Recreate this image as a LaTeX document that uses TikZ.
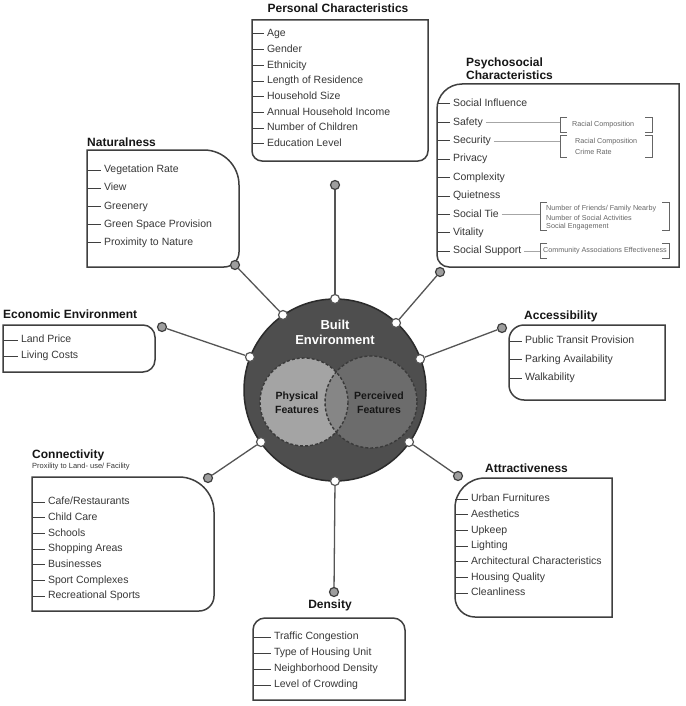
\documentclass[tikz,border=0pt]{standalone}
\usepackage{fontspec}
\setmainfont{Liberation Sans}
\definecolor{boxc}{HTML}{3F3F3F}
\definecolor{itemc}{HTML}{383838}
\definecolor{titlec}{HTML}{161616}
\definecolor{conc}{HTML}{555555}
\definecolor{bec}{HTML}{4E4E4E}
\definecolor{ringc}{HTML}{2B2B2B}
\definecolor{physc}{HTML}{A4A4A4}
\definecolor{percc}{HTML}{7A7A7A}
\definecolor{dashc}{HTML}{3A3A3A}
\definecolor{subc}{HTML}{666666}
\definecolor{outc}{HTML}{9E9E9E}
\newcommand\itmfont{\fontsize{10.5}{12}\selectfont}
\newcommand\ttlfont{\fontsize{12}{13}\selectfont\bfseries}
\newcommand\subfont{\fontsize{7.2}{9}\selectfont}
\newcommand\subbrk[4]{%
  \draw[brk] (#1+7,#2) -- (#1,#2) -- (#1,#4) -- (#1+7,#4);
  \draw[brk] (#3-7,#2) -- (#3,#2) -- (#3,#4) -- (#3-7,#4);}
\begin{document}
\begin{tikzpicture}[x=1pt,y=-1pt,
 boxln/.style={draw=boxc,line width=1.5pt},
 tickln/.style={draw=boxc,line width=1pt},
 itm/.style={anchor=west,inner sep=2.5pt,font=\itmfont,text=itemc,text height=7.4pt,text depth=2pt},
 ttl/.style={font=\ttlfont,text=titlec,inner sep=0pt},
 subt/.style={anchor=west,inner sep=0pt,font=\subfont,text=subc},
 brk/.style={draw=boxc!80,line width=0.9pt},
 lnk/.style={draw=gray!70,line width=0.6pt},
 conn/.style={draw=conc,line width=1.3pt},
 incirc/.style={circle,draw=conc,fill=white,line width=1.2pt,minimum size=9pt,inner sep=0pt},
 outcirc/.style={circle,draw=boxc,fill=outc,line width=1.2pt,minimum size=9pt,inner sep=0pt},
 feat/.style={font=\fontsize{10.5}{14}\selectfont\bfseries,text=titlec,align=center,inner sep=0pt},
]
\useasboundingbox (0,0) rectangle (685,706);
\fill[white] (0,0) rectangle (685,706);

% ---------- boxes ----------
% Personal Characteristics
\draw[boxln] (252,20) -- (428,20) -- (428,151) arc[start angle=0,end angle=90,radius=10]
  -- (262,161) arc[start angle=90,end angle=180,radius=10] -- cycle;
% Psychosocial
\draw[boxln] (462,84) -- (679,84) -- (679,267) -- (449,267) arc[start angle=90,end angle=180,radius=12]
  -- (437,109) arc[start angle=180,end angle=270,radius=25] -- cycle;
% Naturalness
\draw[boxln] (87,150) -- (204,150) arc[start angle=270,end angle=360,radius=35]
  -- (239,252) arc[start angle=0,end angle=90,radius=15] -- (87,267) -- cycle;
% Economic
\draw[boxln] (3,325) -- (143,325) arc[start angle=270,end angle=360,radius=12]
  -- (155,360) arc[start angle=0,end angle=90,radius=12] -- (3,372) -- cycle;
% Accessibility
\draw[boxln] (524,325) -- (665,325) -- (665,400) -- (524,400) arc[start angle=90,end angle=180,radius=15]
  -- (509,340) arc[start angle=180,end angle=270,radius=15] -- cycle;
% Connectivity
\draw[boxln] (32,477) -- (179,477) arc[start angle=270,end angle=360,radius=35]
  -- (214,596) arc[start angle=0,end angle=90,radius=15] -- (32,611) -- cycle;
% Attractiveness
\draw[boxln] (485,478) -- (612,478) -- (612,617) -- (475,617) arc[start angle=90,end angle=180,radius=20]
  -- (455,508) arc[start angle=180,end angle=270,radius=30] -- cycle;
% Density
\draw[boxln] (265,618) -- (393,618) arc[start angle=270,end angle=360,radius=12]
  -- (405,700) -- (253,700) -- (253,630) arc[start angle=180,end angle=270,radius=12] -- cycle;

% ---------- titles ----------
\node[ttl] (tpc) at (338,8) {Personal Characteristics};
\node[ttl,align=left,anchor=west] (tpsy) at (466,68.5) {Psychosocial\\Characteristics};
\node[ttl,anchor=west] (tnat) at (87,142) {Naturalness};
\node[ttl,anchor=west] (teco) at (3,314) {Economic Environment};
\node[ttl,anchor=west] (tacc) at (524,316) {Accessibility};
\node[ttl,anchor=west] (tcon) at (32,455) {Connectivity};
\node[anchor=west,inner sep=0pt,font=\fontsize{7.5}{9}\selectfont,text=itemc] (tconsub) at (32,467) {Proxility to Land- use/ Facility};
\node[ttl,anchor=west] (tatt) at (485,468) {Attractiveness};
\node[ttl] (tden) at (330,605) {Density};

% ---------- items ----------
\foreach \t [count=\i] in {Age,Gender,Ethnicity,Length of Residence,Household Size,Annual Household Income,Number of Children,Education Level}
  \draw[tickln] (252,{34+15.7*(\i-1)}) -- ++(12,0) node[itm] (pc\i) {\t};
\foreach \t [count=\i] in {Social Influence,Safety,Security,Privacy,Complexity,Quietness,Social Tie,Vitality,Social Support}
  \draw[tickln] (437,{104+18.4*(\i-1)}) -- ++(13,0) node[itm] (psy\i) {\t};
\foreach \t [count=\i] in {Vegetation Rate,View,Greenery,Green Space Provision,Proximity to Nature}
  \draw[tickln] (87,{170+18.2*(\i-1)}) -- ++(14,0) node[itm] (nat\i) {\t};
\foreach \t [count=\i] in {Land Price,Living Costs}
  \draw[tickln] (3,{340+16*(\i-1)}) -- ++(15,0) node[itm] (eco\i) {\t};
\foreach \t [count=\i] in {Public Transit Provision,Parking Availability,Walkability}
  \draw[tickln] (509,{341+18.5*(\i-1)}) -- ++(13,0) node[itm] (acc\i) {\t};
\foreach \t [count=\i] in {Cafe/Restaurants,Child Care,Schools,Shopping Areas,Businesses,Sport Complexes,Recreational Sports}
  \draw[tickln] (32,{502+15.67*(\i-1)}) -- ++(13,0) node[itm] (con\i) {\t};
\foreach \t [count=\i] in {Urban Furnitures,Aesthetics,Upkeep,Lighting,Architectural Characteristics,Housing Quality,Cleanliness}
  \draw[tickln] (455,{499+15.67*(\i-1)}) -- ++(13,0) node[itm] (att\i) {\t};
\foreach \t [count=\i] in {Traffic Congestion,Type of Housing Unit,Neighborhood Density,Level of Crowding}
  \draw[tickln] (253,{637+16*(\i-1)}) -- ++(18,0) node[itm] (den\i) {\t};

% ---------- psychosocial sub-brackets ----------
\subbrk{560}{117}{652}{132}
\subbrk{560}{135}{652}{157}
\subbrk{540}{202}{669}{230}
\subbrk{540}{243}{669}{258}
\coordinate (sbA) at (560,0);
\coordinate (sbB) at (540,0);
\draw[lnk] (psy2.east) -- (psy2.east -| sbA);
\draw[lnk] (psy3.east) -- (psy3.east -| sbA);
\draw[lnk] (psy7.east) -- (psy7.east -| sbB);
\draw[lnk] (psy9.east) -- (psy9.east -| sbB);
\node[subt] (s1) at (572,124.5) {Racial Composition};
\node[subt] (s2) at (575,141.5) {Racial Composition};
\node[subt] (s3) at (575,151.5) {Crime Rate};
\node[subt] (s4) at (546,208.5) {Number of Friends/ Family Nearby};
\node[subt] (s5) at (546,218) {Number of Social Activities};
\node[subt] (s6) at (546,227) {Social Engagement};
\node[subt] (s7) at (543,251) {Community Associations Effectiveness};

% ---------- central circle ----------
\node[circle,draw=ringc,fill=bec,line width=1.5pt,minimum size=182pt,inner sep=0pt] (be) at (335,390) {};
\fill[physc] (304,402) circle[radius=44];
\fill[percc,fill opacity=0.7] (371,402) circle[radius=46];
\draw[dashc,line width=1.4pt,dash pattern=on 3pt off 2pt] (304,402) circle[radius=44];
\draw[dashc,line width=1.4pt,dash pattern=on 3pt off 2pt] (371,402) circle[radius=46];
\node[font=\fontsize{13}{15}\selectfont\bfseries,text=white,align=center,inner sep=0pt] (bet) at (335,332.5) {Built\\Environment};
\node[feat] (phys) at (297,402.5) {Physical\\Features};
\node[feat] (perc) at (379,402.5) {Perceived\\Features};

% ---------- connectors ----------
\node[incirc] (iT)  at (335,299) {};
\node[incirc] (iTL) at (283,315) {};
\node[incirc] (iTR) at (396,323) {};
\node[incirc] (iL)  at (250,357) {};
\node[incirc] (iR)  at (420,359) {};
\node[incirc] (iBL) at (261,442) {};
\node[incirc] (iBR) at (409,442) {};
\node[incirc] (iB)  at (335,481) {};
\node[outcirc] (oT)  at (335,185) {};
\node[outcirc] (oTL) at (235,265) {};
\node[outcirc] (oTR) at (440,272) {};
\node[outcirc] (oL)  at (162,327) {};
\node[outcirc] (oR)  at (502,328) {};
\node[outcirc] (oBL) at (208,478) {};
\node[outcirc] (oBR) at (458,476) {};
\node[outcirc] (oB)  at (334,592) {};
\draw[conn] (iT) -- (oT);
\draw[conn] (iTL) -- (oTL);
\draw[conn] (iTR) -- (oTR);
\draw[conn] (iL) -- (oL);
\draw[conn] (iR) -- (oR);
\draw[conn] (iBL) -- (oBL);
\draw[conn] (iBR) -- (oBR);
\draw[conn] (iB) -- (oB);
\end{tikzpicture}
\end{document}
